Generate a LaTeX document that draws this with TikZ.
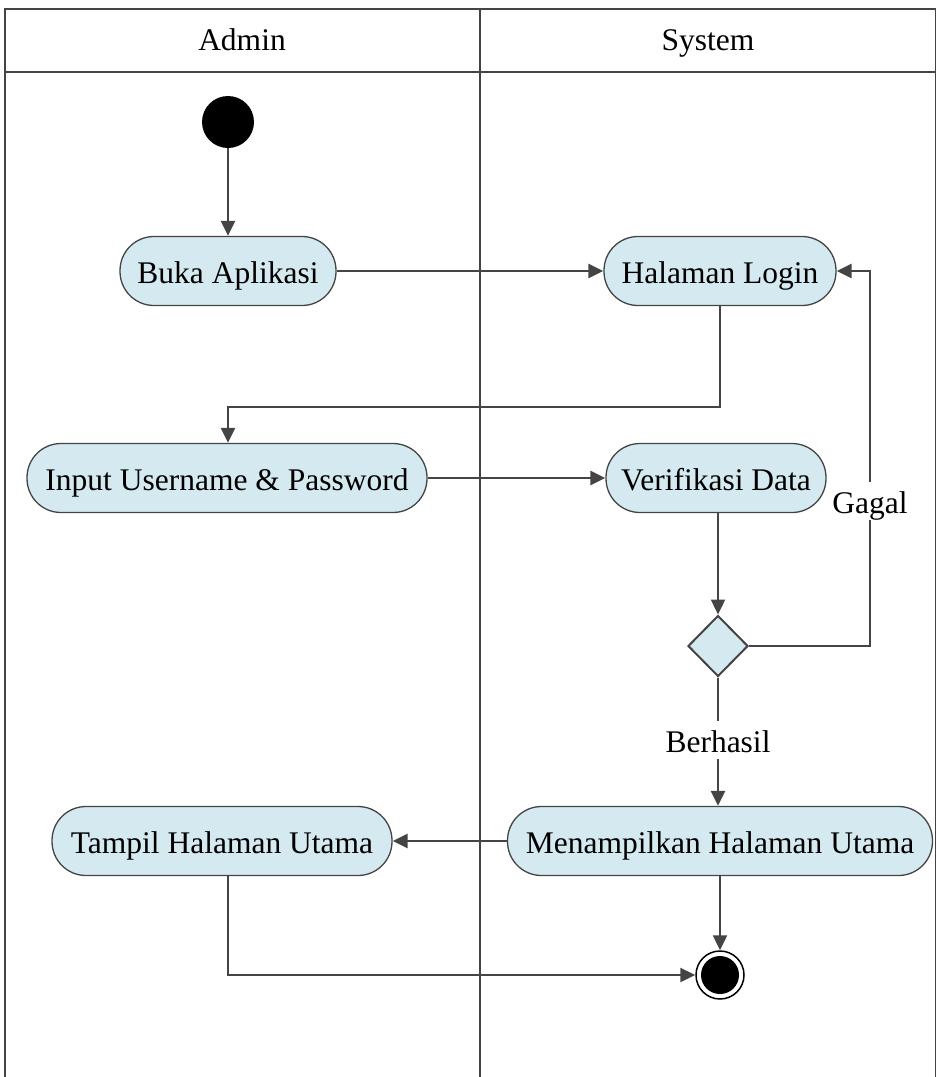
\documentclass[tikz,border=0pt]{standalone}
\usepackage{fontspec}
\setmainfont{Liberation Serif}
\usetikzlibrary{arrows.meta,shapes.geometric}
\definecolor{lane}{HTML}{444444}
\definecolor{actfill}{HTML}{D4EAF0}
\tikzset{
  txt/.style={font=\fontsize{31.5}{36}\selectfont, text height=26pt, text depth=2pt},
  act/.style={txt, draw=lane, line width=1.3pt, fill=actfill, rectangle,
    rounded corners=34pt, minimum height=69pt, inner sep=0pt},
  flow/.style={draw=lane, line width=2.4pt,
    -{Triangle[length=15pt,width=14pt]}},
  lbl/.style={txt, fill=white, inner xsep=2pt, inner ysep=5pt},
}
\begin{document}
\begin{tikzpicture}[x=1pt,y=-1pt]
\useasboundingbox (0,0) rectangle (937,1077);
% swimlanes
\draw[lane, line width=1.3pt] (5,1077) -- (5,9) -- (935.5,9) -- (935.5,1077);
\draw[lane, line width=1.3pt] (5,72) -- (935.5,72);
\draw[lane, line width=1.3pt] (480,9) -- (480,1077);
\node[txt] (hadmin) at (242,38) {Admin};
\node[txt] (hsys) at (708,38) {System};

% activity nodes
\node[circle, fill=black, minimum size=52pt, inner sep=0pt] (start) at (228,122) {};
\node[act, minimum width=216pt] (buka) at (228,271) {Buka Aplikasi};
\node[act, minimum width=232pt] (login) at (720,271) {Halaman Login};
\node[act, minimum width=400pt] (input) at (227,478) {Input Username \& Password};
\node[act, minimum width=220pt] (verif) at (716,478) {Verifikasi Data};
\node[diamond, draw=lane, line width=2pt, fill=actfill, minimum width=60pt,
      minimum height=61pt, inner sep=0pt] (dec) at (718,646) {};
\node[act, minimum width=425pt] (menam) at (720,841) {Menampilkan Halaman Utama};
\node[act, minimum width=340pt] (tampil) at (222,841) {Tampil Halaman Utama};
\node[circle, draw=black, line width=1.5pt, fill=white, minimum size=48pt, inner sep=0pt] (end) at (720,975) {};
\node[circle, fill=black, minimum size=38pt, inner sep=0pt] (endin) at (720,975) {};

% flows
\draw[flow] (start) -- (buka);
\draw[flow] (buka) -- (login);
\draw[flow] (login.south) -- (720,407) -| (input.north -| 228,0);
\draw[flow] (input) -- (verif);
\draw[flow] (verif.south -| dec.north) -- (dec.north);
\draw[flow] (dec.east) -- (870,646) |- (login.east);
\node[lbl] (gagal) at (870,501) {Gagal};
\draw[flow] (dec.south) -- (menam.north -| dec.south);
\node[lbl] (berhasil) at (718,740) {Berhasil};
\draw[flow] (menam.west) -- (tampil.east);
\draw[flow] (menam.south) -- (end.north);
\draw[flow] (tampil.south -| 228,0) |- (end.west);
\end{tikzpicture}
\end{document}
